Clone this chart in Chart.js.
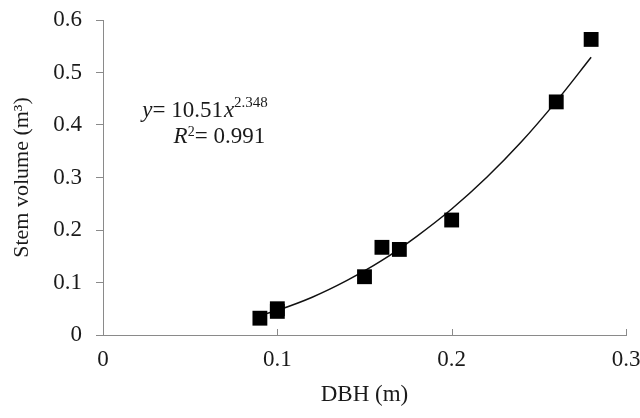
<!DOCTYPE html>
<html>
<head>
<meta charset="utf-8">
<script src="https://cdn.jsdelivr.net/npm/chart.js@4"></script>
<style>
  html, body { margin: 0; padding: 0; background: #fff; }
  #wrap { width: 640px; height: 418px; }
</style>
</head>
<body>
<div id="wrap"><canvas id="chart"></canvas></div>
<script>
// measured trees: DBH (m) vs stem volume (m3)
var dbh = [0.09, 0.10, 0.10, 0.15, 0.16, 0.17, 0.20, 0.26, 0.28];
var volume = [0.032, 0.045, 0.050, 0.111, 0.167, 0.163, 0.219, 0.444, 0.563];

// power trend line y = 10.51x^2.348
var trendX = [0.09, 0.10, 0.12, 0.14, 0.16, 0.18, 0.20, 0.22, 0.24, 0.26, 0.28];
var trendY = [0.037, 0.047, 0.072, 0.104, 0.142, 0.188, 0.240, 0.300, 0.368, 0.445, 0.529];

var xTicks = [0, 0.1, 0.2, 0.3];
var yTicks = [0, 0.1, 0.2, 0.3, 0.4, 0.5, 0.6];

var equationText = ['y', '= 10.51', 'x', '2.348'];
var r2Text = ['R', '2', '= 0.991'];

var serif = '"Liberation Serif", "DejaVu Serif", serif';
var axisGrey = '#8a8a8a';

function toPoints(xs, ys) {
    return xs.map(function (x, i) { return {x: x, y: ys[i]}; });
}

// small tick marks pointing up into the plot on the x axis
var innerTicks = {
    id: 'innerTicks',
    afterDraw: function (chart) {
        var ctx = chart.ctx;
        var xs = chart.scales.x;
        var bottom = chart.chartArea.bottom;
        ctx.save();
        ctx.strokeStyle = axisGrey;
        ctx.lineWidth = 1;
        xTicks.forEach(function (v) {
            if (v === 0) return;
            var px = Math.round(xs.getPixelForValue(v)) + 0.5;
            ctx.beginPath();
            ctx.moveTo(px, bottom);
            ctx.lineTo(px, bottom - 6);
            ctx.stroke();
        });
        ctx.restore();
    }
};

// fit equation and R squared
var equation = {
    id: 'equation',
    afterDraw: function (chart) {
        var ctx = chart.ctx;
        var xs = chart.scales.x, ys = chart.scales.y;
        ctx.save();
        ctx.fillStyle = '#1a1a1a';
        ctx.textBaseline = 'alphabetic';
        ctx.textAlign = 'left';

        var x = xs.getPixelForValue(0.0225);
        var base = ys.getPixelForValue(0.415);
        ctx.font = 'italic 23px ' + serif;
        ctx.fillText(equationText[0], x, base);
        x += ctx.measureText(equationText[0]).width;
        ctx.font = '23px ' + serif;
        ctx.fillText(equationText[1], x, base);
        x += ctx.measureText(equationText[1]).width + 1;
        ctx.font = 'italic 23px ' + serif;
        ctx.fillText(equationText[2], x, base);
        x += ctx.measureText(equationText[2]).width;
        ctx.font = '15px ' + serif;
        ctx.fillText(equationText[3], x, base - 10);

        x = xs.getPixelForValue(0.0405);
        base = ys.getPixelForValue(0.366);
        ctx.font = 'italic 23px ' + serif;
        ctx.fillText(r2Text[0], x, base);
        x += ctx.measureText(r2Text[0]).width;
        ctx.font = '14px ' + serif;
        ctx.fillText(r2Text[1], x, base - 7);
        x += ctx.measureText(r2Text[1]).width;
        ctx.font = '23px ' + serif;
        ctx.fillText(r2Text[2], x, base);
        ctx.restore();
    }
};

var ctx = document.getElementById('chart');
new Chart(ctx, {
    type: 'scatter',
    data: {
        datasets: [
            {
                label: 'Trend',
                type: 'line',
                data: toPoints(trendX, trendY),
                borderColor: '#111',
                borderWidth: 1.5,
                pointRadius: 0,
                cubicInterpolationMode: 'monotone',
                fill: false,
                order: 2
            },
            {
                label: 'Stem volume',
                data: toPoints(dbh, volume),
                pointStyle: 'rect',
                pointRadius: 10.5,
                backgroundColor: '#000',
                borderColor: '#000',
                borderWidth: 0,
                order: 1
            }
        ]
    },
    options: {
        responsive: true,
        maintainAspectRatio: false,
        animation: false,
        events: [],
        layout: {padding: {top: 20, right: 14, left: 0, bottom: 0}},
        plugins: {
            legend: {display: false},
            tooltip: {enabled: false}
        },
        scales: {
            x: {
                type: 'linear',
                min: 0,
                max: 0.3,
                afterBuildTicks: function (scale) {
                    scale.ticks = xTicks.map(function (v) { return {value: v}; });
                },
                afterFit: function (scale) {
                    scale.height = 83;
                    scale.paddingLeft = 0;
                    scale.paddingRight = 0;
                },
                grid: {display: true, drawOnChartArea: false, drawTicks: false},
                border: {display: true, color: axisGrey, width: 1},
                ticks: {
                    padding: 11,
                    color: '#1a1a1a',
                    font: {family: serif, size: 23},
                    maxRotation: 0,
                    callback: function (v) { return String(v); }
                },
                title: {
                    display: true,
                    text: 'DBH (m)',
                    color: '#1a1a1a',
                    font: {family: serif, size: 23},
                    padding: {top: 0, bottom: 9}
                }
            },
            y: {
                type: 'linear',
                min: 0,
                max: 0.6,
                afterBuildTicks: function (scale) {
                    scale.ticks = yTicks.map(function (v) { return {value: v}; });
                },
                afterFit: function (scale) {
                    scale.width = 103;
                    scale.paddingTop = 0;
                    scale.paddingBottom = 0;
                },
                grid: {display: true, drawOnChartArea: false, drawTicks: true, tickLength: 7, color: axisGrey},
                border: {display: true, color: axisGrey, width: 1},
                ticks: {
                    padding: 14,
                    color: '#1a1a1a',
                    font: {family: serif, size: 23},
                    callback: function (v) { return String(v); }
                },
                title: {
                    display: true,
                    text: 'Stem volume (m³)',
                    color: '#1a1a1a',
                    font: {family: serif, size: 22},
                    padding: {top: 9, bottom: 0}
                }
            }
        }
    },
    plugins: [innerTicks, equation]
});
</script>
</body>
</html>
